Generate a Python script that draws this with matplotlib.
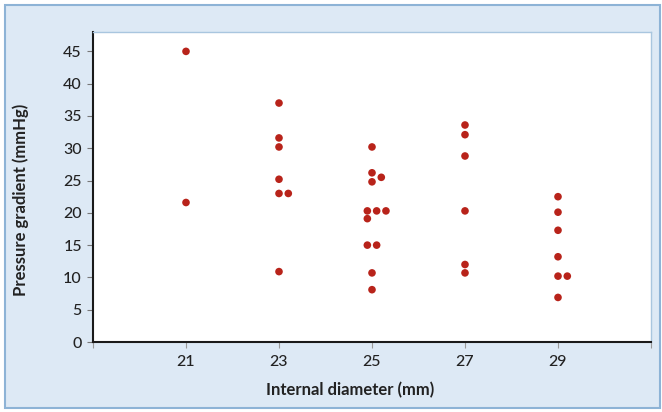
import matplotlib.pyplot as plt
from matplotlib.patches import Rectangle

# internal diameter (mm) and pressure gradient (mmHg); coincident points nudged sideways
diameter = [21, 21,
            23, 23, 23, 23, 23, 23.2, 23,
            25, 25, 25, 25.2, 24.9, 25.1, 25.3, 24.9, 24.9, 25.1, 25, 25,
            27, 27, 27, 27, 27, 27,
            29, 29, 29, 29, 29, 29.2, 29]
gradient = [45, 21.6,
            37.0, 31.6, 30.2, 25.2, 23.0, 23.0, 10.9,
            30.2, 26.2, 24.8, 25.5, 20.3, 20.3, 20.3, 19.1, 15.0, 15.0, 10.7, 8.1,
            33.6, 32.1, 28.8, 20.3, 12.0, 10.7,
            22.5, 20.1, 17.3, 13.2, 10.2, 10.2, 6.9]
xticks = [19, 21, 23, 25, 27, 29, 31]
xticklabels = ["", "21", "23", "25", "27", "29", ""]
yticks = [0, 5, 10, 15, 20, 25, 30, 35, 40, 45]

plt.rcParams['font.family'] = ['Lato', 'DejaVu Sans']

fig = plt.figure(figsize=(6.62, 4.12), dpi=100, facecolor="white")
fig.patches.append(Rectangle((5 / 662, 4 / 412), 655 / 662, 403 / 412,
                             transform=fig.transFigure, facecolor="#dde9f5",
                             edgecolor="#8db3d6", linewidth=1.5, zorder=-10))

ax = fig.add_axes([93 / 662, 70 / 412, 558 / 662, 310 / 412])
ax.set_zorder(5)
ax.set_facecolor("white")
ax.scatter(diameter, gradient, s=30, color="#b8231a", edgecolors="none", zorder=3)

ax.set_xlim(19, 31)
ax.set_ylim(0, 48)
ax.set_xticks(xticks)
ax.set_xticklabels(xticklabels)
ax.set_yticks(yticks)

for side in ["left", "bottom"]:
    ax.spines[side].set_color("#1a1a1a")
    ax.spines[side].set_linewidth(1.5)
for side in ["top", "right"]:
    ax.spines[side].set_color("#a9c6df")
    ax.spines[side].set_linewidth(1.0)

ax.tick_params(axis="y", length=4, width=0.8, color="#777777", labelsize=11.5,
               labelcolor="#222222", pad=4)
ax.tick_params(axis="x", length=4, width=0.8, color="#999999", labelsize=11.5,
               labelcolor="#222222", pad=5)
for lbl in ax.get_xticklabels() + ax.get_yticklabels():
    lbl.set_fontweight("medium")

ax.set_xlabel("Internal diameter (mm)", fontsize=12, fontweight="bold", color="#222222")
ax.set_ylabel("Pressure gradient (mmHg)", fontsize=12, fontweight="bold", color="#222222")
ax.xaxis.set_label_coords(0.46, -0.13)
ax.yaxis.set_label_coords(-0.115, 0.46)

fig.savefig("out.png", dpi=100, facecolor=fig.get_facecolor())
